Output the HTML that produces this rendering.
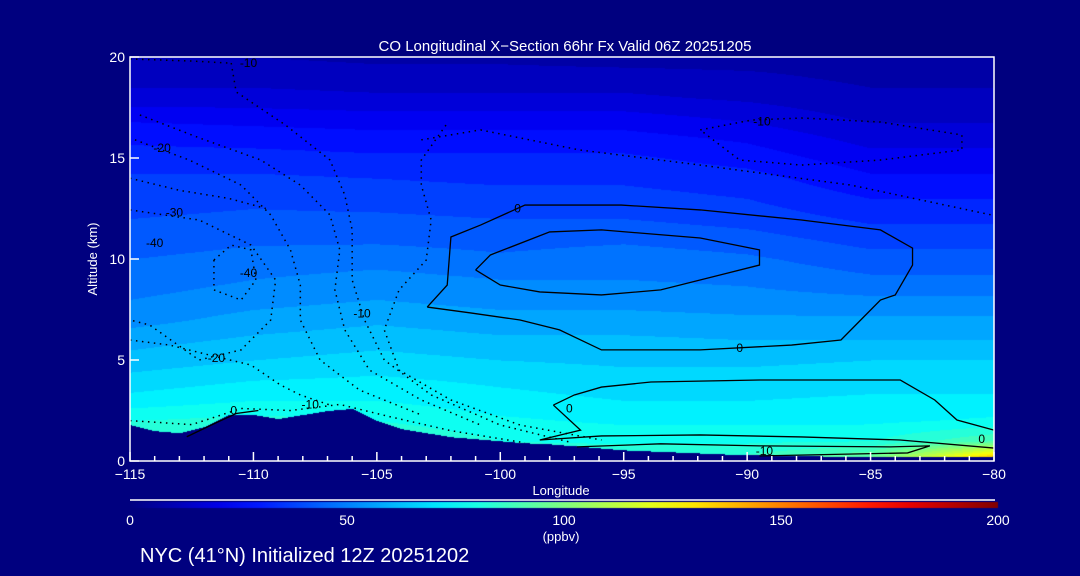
<!DOCTYPE html>
<html><head><meta charset="utf-8"><style>
html,body{margin:0;padding:0;background:#00007f;}
#wrap{position:relative;width:1080px;height:576px;background:#00007f;overflow:hidden;font-family:"Liberation Sans",sans-serif;}
canvas,svg{position:absolute;left:0;top:0;}
</style></head><body>
<div id="wrap">
<canvas id="cv" width="1080" height="576"></canvas>
<svg id="sv" width="1080" height="576"></svg>
</div>
<script>
const lonCols=[-115,-110,-105,-100,-95,-90,-85,-80];
const altRows=[0,1,2,3,4,5,6,7,8,9,10,11,12,13,14,15,16,17,18,19,20];
const coValues=[
[90,92,90,85,86,88,100,150],
[86,88,86,80,79,79,80,90],
[80,82,80,76,74,74,74,76],
[72,75,75,72,70,70,71,71],
[67,70,71,69,67,67,68,68],
[62,65,67,65,64,64,65,65],
[58,61,63,61,61,60,60,60],
[53,57,59,57,57,56,56,56],
[50,53,55,53,53,52,51,51],
[47,50,52,50,50,49,46,46],
[45,47,48,46,48,46,42,42],
[42,44,44,43,44,42,38,38],
[40,41,41,40,40,38,34,34],
[38,39,38,37,37,35,30,30],
[36,36,35,34,34,32,26,26],
[32,32,31,31,31,28,22,22],
[29,28,27,27,27,24,18,18],
[24,23,22,22,22,19,14,14],
[17,17,16,16,16,14,11,11],
[13,13,12,12,12,11,9,9],
[10,10,9,9,8,8,8,8]];
const terrainLon=[-115,-114,-113,-112,-111,-110,-109,-108,-107,-106,-105,-104,-103,-102,-101,-100,-99,-98,-97,-96,-95,-94,-93,-92,-91,-90,-89,-88,-87,-86,-85,-84,-83,-82,-81,-80];
const terrainAlt=[1.8,1.5,1.4,1.7,2.3,2.3,2.1,2.3,2.5,2.6,2.0,1.6,1.4,1.2,1.1,1.0,0.9,0.85,0.75,0.65,0.55,0.5,0.45,0.4,0.35,0.3,0.3,0.25,0.25,0.2,0.2,0.2,0.2,0.2,0.2,0.25];
const xTickLabels=[-115,-110,-105,-100,-95,-90,-85,-80];
const yTickLabels=[0,5,10,15,20];
const cbarLabels=[0,50,100,150,200];
const solidContours=[
[[-102.96,7.62],[-102.15,8.71],[-102.0,11.09],[-100.8,11.68],[-99.0,12.67],[-95.1,12.67],[-91.9,12.43],[-87.8,11.93],[-84.6,11.44],[-83.3,10.54],[-83.3,9.7],[-84.0,8.22],[-84.6,7.97],[-85.4,6.98],[-86.2,5.99],[-88.2,5.74],[-91.9,5.5],[-95.9,5.5],[-97.6,6.49],[-99.2,6.98],[-101.2,7.33],[-102.96,7.62]],
[[-101.0,9.46],[-100.4,10.2],[-98.0,11.34],[-95.9,11.44],[-91.9,11.04],[-89.5,10.45],[-89.5,9.7],[-91.1,9.21],[-93.5,8.47],[-95.9,8.22],[-98.4,8.37],[-100.0,8.71],[-101.0,9.46]],
[[-97.85,2.77],[-97.0,3.27],[-95.9,3.66],[-93.9,3.91],[-89.5,4.01],[-83.8,4.01],[-82.4,3.02],[-81.5,2.03],[-80.0,1.53]],
[[-97.85,2.77],[-96.75,1.53],[-98.4,1.04],[-95.9,1.24],[-91.9,1.29],[-87.8,1.19],[-83.8,1.04],[-80.0,0.64]],
[[-96.9,0.7],[-93.5,0.85],[-89.5,0.75],[-84.2,0.7],[-82.6,0.75],[-83.5,0.4],[-89.5,0.25]],
[[-112.7,1.2],[-111.5,1.9],[-110.7,2.35],[-109.8,2.5]]];
const dottedContours=[
[[-110.9,19.7],[-110.7,18.27],[-108.7,16.63],[-106.9,14.9],[-106.3,13.17],[-106.0,11.44],[-106.0,8.96],[-105.5,6.98],[-104.7,5.0],[-102.8,3.27],[-100.0,1.78],[-97.2,0.94]],
[[-114.6,17.13],[-112.2,16.0],[-109.7,14.9],[-108.1,13.66],[-106.9,12.18],[-106.5,10.45],[-106.7,8.47],[-106.3,6.49],[-105.3,4.5],[-103.2,3.02],[-100.8,1.78]],
[[-114.8,15.9],[-112.6,14.9],[-110.5,13.66],[-109.3,12.18],[-108.5,10.45],[-108.1,8.71],[-108.1,6.98],[-107.3,5.0],[-105.7,3.51],[-103.2,2.28]],
[[-115,12.43],[-112.2,11.93],[-110.1,10.69],[-109.1,8.96],[-109.3,6.98],[-110.5,5.5],[-112.2,5.0],[-114.2,6.73],[-115,6.98]],
[[-111.6,9.95],[-110.9,10.69],[-110.1,10.45],[-109.9,8.96],[-110.5,7.97],[-111.6,8.47],[-111.6,9.95]],
[[-115,5.99],[-113.4,5.74],[-111.8,5.25],[-110.1,4.75],[-108.9,3.76],[-108.1,3.27],[-106.9,2.77]],
[[-102.2,16.63],[-103.2,14.9],[-103.2,13.66],[-102.8,11.93],[-103.0,9.95],[-104.1,8.47],[-104.7,6.49],[-104.1,4.5],[-102.0,3.02],[-99.2,1.78],[-95.9,1.04]],
[[-103.2,15.9],[-100.8,16.39],[-96.8,15.4],[-91.9,14.65],[-85.8,13.66],[-80.1,12.18]],
[[-91.9,16.39],[-89.8,16.88],[-87.8,16.98],[-84.6,16.78],[-81.3,16.14],[-81.3,15.4],[-84.6,14.9],[-87.8,14.65],[-90.3,14.9],[-91.1,15.64],[-91.9,16.39]],
[[-115,19.9],[-112.5,19.8],[-111.0,19.7]],
[[-115,14.0],[-113,13.4],[-111,13.0],[-109.5,12.5]],
[[-115,2.0],[-112.5,1.8],[-110.5,2.6],[-108.5,2.5],[-106.5,2.8],[-104.5,2.2],[-102,1.5],[-99,0.9]]];
const contourLabels=[["-10",-110.2,19.5],["0",-99.3,12.3],["-10",-89.4,16.6],["-20",-113.7,15.3],["-30",-113.2,12.1],["-40",-114.0,10.6],["-40",-110.2,9.1],["-10",-105.6,7.1],["-20",-111.5,4.9],["-10",-107.7,2.6],["0",-110.8,2.3],["0",-97.2,2.4],["0",-90.3,5.4],["-10",-89.3,0.3],["0",-80.5,0.9]];

const X0=130,X1=994,Y0=461,Y1=57;
function xs(lon){return X0+(lon+115)/35*(X1-X0);}
function ys(alt){return Y0-alt/20*(Y0-Y1);}
function jet(v){const t=Math.max(0,Math.min(1,v/200));const c=x=>Math.round(255*Math.max(0,Math.min(1,x)));
return [c(1.5-Math.abs(4*t-3)),c(1.5-Math.abs(4*t-2)),c(1.5-Math.abs(4*t-1))];}
function field(lon,alt){
 let fi=(lon-lonCols[0])/5; fi=Math.max(0,Math.min(lonCols.length-1.0001,fi));
 let fj=alt; fj=Math.max(0,Math.min(altRows.length-1.0001,fj));
 const i=Math.floor(fi),j=Math.floor(fj),a=fi-i,b=fj-j;
 return (coValues[j][i]*(1-a)+coValues[j][i+1]*a)*(1-b)+(coValues[j+1][i]*(1-a)+coValues[j+1][i+1]*a)*b;}
function terrain(lon){const k=Math.max(0,Math.min(terrainLon.length-1.0001,lon+115));const i=Math.floor(k),a=k-i;return terrainAlt[i]*(1-a)+terrainAlt[i+1]*a;}

const cv=document.getElementById('cv'),ctx=cv.getContext('2d');
const img=ctx.createImageData(X1-X0,Y0-Y1);
for(let py=0;py<Y0-Y1;py++){const alt=(Y0-(Y1+py))/(Y0-Y1)*20;
 for(let px=0;px<X1-X0;px++){const lon=-115+px/(X1-X0)*35;const o=(py*(X1-X0)+px)*4;
  let col;
  if(alt<terrain(lon)) col=[0,0,127];
  else {const v=field(lon,alt);col=jet(Math.floor(v/5)*5+2.5);}
  img.data[o]=col[0];img.data[o+1]=col[1];img.data[o+2]=col[2];img.data[o+3]=255;}}
ctx.putImageData(img,X0,Y1);
const g=ctx.createLinearGradient(130,0,998,0);
for(let k=0;k<=20;k++){const c=jet(k*10);g.addColorStop(k/20,`rgb(${c[0]},${c[1]},${c[2]})`);}
ctx.fillStyle=g;ctx.fillRect(130,502,868,6);

const NS='http://www.w3.org/2000/svg',sv=document.getElementById('sv');
function mk(tag,attrs,parent){const e=document.createElementNS(NS,tag);for(const k in attrs)e.setAttribute(k,attrs[k]);(parent||sv).appendChild(e);return e;}
function txt(s,x,y,size,anchor,parent){const t=mk('text',{x:x,y:y,'font-size':size,'text-anchor':anchor||'middle',fill:'#fff','font-family':'"Liberation Sans",sans-serif'},parent);t.textContent=s;return t;}

solidContours.forEach(c=>{const p=mk('polyline',{points:c.map(q=>xs(q[0])+','+ys(q[1])).join(' '),fill:'none',stroke:'#000','stroke-width':1.3});

});
dottedContours.forEach(c=>{const p=mk('polyline',{points:c.map(q=>xs(q[0])+','+ys(q[1])).join(' '),fill:'none',stroke:'#000','stroke-width':1.5,'stroke-dasharray':'1.5 4.5'});

});
contourLabels.forEach(l=>{const t=txt(l[0],xs(l[1]),ys(l[2]),12,'middle');t.setAttribute('fill','#000');

});

const fr=mk('rect',{x:X0,y:Y1,width:X1-X0,height:Y0-Y1,fill:'none',stroke:'#fff','stroke-width':1.5});


for(let lon=-115;lon<=-80;lon++){const major=(lon%5===0);
 const tk=mk('line',{x1:xs(lon),x2:xs(lon),y1:Y0,y2:Y0-(major?9:5),stroke:'#fff','stroke-width':1.5});
 
 }
xTickLabels.forEach(v=>{const t=txt(String(v).replace('-','\u2212'),xs(v),479,14,'middle');
 
 });
yTickLabels.forEach(v=>{const tk=mk('line',{x1:X0,x2:X0+9,y1:ys(v),y2:ys(v),stroke:'#fff','stroke-width':1.5});
 
 
 const t=txt(String(v),X0-5,ys(v)+5,14,'end');
 
 });
cbarLabels.forEach(v=>{const t=txt(String(v),130+v/200*868,525,14,'middle');
 
 });
const cl=mk('line',{x1:130,x2:995,y1:500,y2:500,stroke:'#fff','stroke-width':1.5});



let t;
t=txt('CO Longitudinal X\u2212Section 66hr  Fx Valid 06Z 20251205',565,51,15,'middle');t.setAttribute('xml:space','preserve');


t=txt('Longitude',561,495,13,'middle');


t=txt('Altitude (km)',0,0,13,'middle');t.setAttribute('transform','translate(97,259) rotate(-90)');


t=txt('(ppbv)',561,541,13,'middle');


t=txt('NYC (41\u00b0N) Initialized 12Z 20251202',140,562,20,'start');


</script>
</body></html>
